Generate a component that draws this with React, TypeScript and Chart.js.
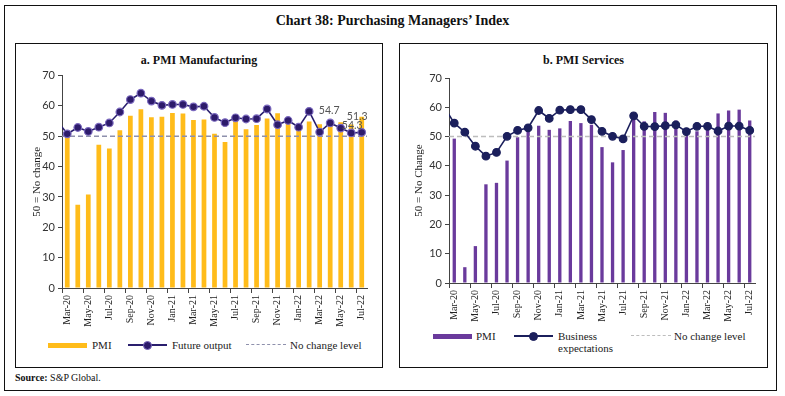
import React, { useEffect, useRef } from 'react';
import { Chart, registerables } from 'chart.js';

Chart.register(...registerables);

// ---------- DATA ----------
// Feb-20 is the month before the first shown one; only its line value is used (the line enters from the axis)
const months = [
  'Feb-20', 'Mar-20', 'Apr-20', 'May-20', 'Jun-20', 'Jul-20', 'Aug-20', 'Sep-20', 'Oct-20', 'Nov-20', 'Dec-20',
  'Jan-21', 'Feb-21', 'Mar-21', 'Apr-21', 'May-21', 'Jun-21', 'Jul-21', 'Aug-21', 'Sep-21', 'Oct-21', 'Nov-21', 'Dec-21',
  'Jan-22', 'Feb-22', 'Mar-22', 'Apr-22', 'May-22', 'Jun-22', 'Jul-22',
];
const firstShownMonth = 'Mar-20';

const manufacturingPMI = [
  null, 51.8, 27.4, 30.8, 47.2, 46.0, 52.0, 56.8, 58.9, 56.3, 56.4,
  57.7, 57.5, 55.4, 55.5, 50.8, 48.1, 55.3, 52.3, 53.7, 55.9, 57.6, 55.5,
  54.0, 54.9, 54.0, 54.7, 54.6, 53.9, 56.4,
];
const manufacturingFutureOutput = [
  55.3, 50.8, 52.9, 51.6, 53.0, 54.4, 58.0, 62.1, 64.2, 61.6, 60.2,
  60.5, 60.5, 59.7, 59.9, 56.2, 54.5, 56.1, 55.7, 55.8, 59.0, 53.8, 55.2,
  53.0, 58.2, 51.4, 54.4, 52.7, 51.1, 51.3,
];
const servicesPMI = [
  null, 49.3, 5.4, 12.6, 33.7, 34.2, 41.8, 49.8, 54.1, 53.7, 52.3,
  52.8, 55.3, 54.6, 54.0, 46.4, 41.2, 45.4, 56.7, 55.2, 58.4, 58.1, 55.5,
  51.5, 51.8, 53.6, 57.9, 58.9, 59.2, 55.5,
];
const servicesBusinessExpectations = [
  60.3, 54.6, 51.5, 46.7, 43.3, 44.6, 50.1, 52.1, 53.0, 58.9, 56.2,
  59.0, 59.2, 59.2, 55.8, 51.8, 50.1, 49.2, 57.1, 53.5, 53.4, 53.7, 54.0,
  51.7, 53.5, 53.5, 51.9, 53.6, 53.6, 52.1,
];
const noChangeLevel = 50;
const yAxisMin = 0;
const yAxisMax = 70;
const yAxisStep = 10;

// data labels printed on panel a
const mfgLabelMonths = ['Apr-22', 'Jun-22', 'Jul-22'];
const mfgLabelTexts = ['54.7', '54.3', '51.3'];
const mfgLabelAnchorValues = [54.7, 53.9, 56.4];

// ---------- STYLE ----------
const SERIF = '"Liberation Serif", "DejaVu Serif", serif';
const SANS = 'Lato, "Liberation Sans", sans-serif';

const noChangePlugin = {
  id: 'noChange',
  afterDatasetDraw(chart: any, args: any, opts: any) {
    if (args.index !== 0) return;
    const { ctx, chartArea } = chart;
    const y = chart.scales.y.getPixelForValue(opts.value);
    ctx.save();
    ctx.setLineDash(opts.dash);
    ctx.strokeStyle = opts.color;
    ctx.lineWidth = opts.width;
    ctx.beginPath();
    ctx.moveTo(chartArea.left, y);
    ctx.lineTo(chartArea.right, y);
    ctx.stroke();
    ctx.restore();
  },
};

const valueLabelPlugin = {
  id: 'valueLabels',
  afterDatasetsDraw(chart: any, _args: any, opts: any) {
    if (!opts || !opts.items || !opts.items.length) return;
    const { ctx } = chart;
    const xs = chart.scales.x;
    const ys = chart.scales.y;
    ctx.save();
    ctx.font = opts.font;
    ctx.fillStyle = opts.color;
    ctx.textAlign = 'center';
    ctx.textBaseline = 'middle';
    opts.items.forEach((it: any) => {
      const x = xs.getPixelForValue(months.indexOf(it.month)) + it.dx;
      const y = ys.getPixelForValue(it.value) + it.dy;
      ctx.fillText(it.text, x, y);
    });
    ctx.restore();
  },
};

type PanelProps = {
  bars: (number | null)[];
  line: number[];
  barColor: string;
  barFrac: number;
  lineColor: string;
  pointFill: string;
  pointBorder: string;
  pointRadius: number;
  dashColor: string;
  yTitle: string;
  yTitleOffset: number;
  yWidth: number;
  xHeight: number;
  padTop: number;
  padRight: number;
  width: number;
  height: number;
  labels?: any[];
};

function PanelChart(p: PanelProps) {
  const ref = useRef<HTMLCanvasElement | null>(null);
  useEffect(() => {
    if (!ref.current) return;
    const chart = new Chart(ref.current, {
      type: 'bar',
      data: {
        labels: months,
        datasets: [
          {
            type: 'bar',
            data: p.bars as any,
            backgroundColor: p.barColor,
            borderWidth: 0,
            barPercentage: 0.9,
            categoryPercentage: p.barFrac,
            order: 2,
          },
          {
            type: 'line',
            data: p.line,
            borderColor: p.lineColor,
            borderWidth: 1.6,
            pointRadius: p.pointRadius,
            pointBackgroundColor: p.pointFill,
            pointBorderColor: p.pointBorder,
            pointBorderWidth: 1.2,
            tension: 0,
            order: 1,
          } as any,
        ],
      },
      options: {
        animation: false,
        responsive: false,
        maintainAspectRatio: false,
        layout: { padding: { top: p.padTop, right: p.padRight, left: 0, bottom: 0 } },
        plugins: {
          legend: { display: false },
          tooltip: { enabled: false },
          noChange: { value: noChangeLevel, color: p.dashColor, width: 1.6, dash: [5, 3] },
          valueLabels: { items: p.labels || [], font: `10.5px ${SANS}`, color: '#555' },
        } as any,
        scales: {
          x: {
            type: 'category',
            min: firstShownMonth,
            offset: true,
            afterFit: (s: any) => { s.height = p.xHeight; },
            grid: {
              offset: true,
              drawOnChartArea: false,
              tickLength: 5,
              color: (ctx: any) => (ctx.index % 2 === 0 ? '#444' : 'rgba(0,0,0,0)'),
            },
            border: { display: true, color: '#444', width: 1 },
            ticks: {
              autoSkip: false,
              maxRotation: 90,
              minRotation: 90,
              padding: 2,
              color: '#222',
              font: { family: SERIF, size: 10 },
              callback: function (this: any, val: any, idx: number) {
                return idx % 2 === 0 ? this.getLabelForValue(val) : '';
              },
            },
          },
          y: {
            min: yAxisMin,
            max: yAxisMax,
            afterFit: (s: any) => { s.width = p.yWidth; },
            grid: { drawOnChartArea: false, tickLength: 4, color: '#444' },
            border: { display: true, color: '#444', width: 1 },
            ticks: {
              stepSize: yAxisStep,
              padding: 3,
              color: '#333',
              font: { family: SANS, size: 11 },
            },
            title: {
              display: true,
              text: p.yTitle,
              color: '#222',
              font: { family: SERIF, size: 11 },
              padding: { top: p.yTitleOffset, bottom: 0 },
            },
          },
        },
      },
      plugins: [noChangePlugin, valueLabelPlugin],
    } as any);
    return () => chart.destroy();
  }, []);
  return (
    <canvas
      ref={ref}
      width={p.width}
      height={p.height}
      style={{ width: p.width, height: p.height, display: 'block' }}
    />
  );
}

const legendText: React.CSSProperties = {
  position: 'absolute',
  fontFamily: SERIF,
  fontSize: 11,
  color: '#222',
  lineHeight: '12px',
  whiteSpace: 'nowrap',
};

function LegendSwatch({ x, y, color }: { x: number; y: number; color: string }) {
  return <div style={{ position: 'absolute', left: x, top: y - 2.5, width: 39, height: 5, background: color }} />;
}
function LegendLine({ x, y, color, fill, border }: { x: number; y: number; color: string; fill: string; border: string }) {
  return (
    <>
      <div style={{ position: 'absolute', left: x, top: y - 1, width: 39, height: 2, background: color }} />
      <div style={{ position: 'absolute', left: x + 15, top: y - 4.5, width: 7, height: 7, borderRadius: '50%', background: fill, border: `1px solid ${border}` }} />
    </>
  );
}
function LegendDash({ x, y, color }: { x: number; y: number; color: string }) {
  return <div style={{ position: 'absolute', left: x, top: y - 1, width: 40, height: 0, borderTop: `1.5px dashed ${color}` }} />;
}

export default function App() {
  const mfgLabels = mfgLabelMonths.map((m, i) => ({
    month: m,
    text: mfgLabelTexts[i],
    value: mfgLabelAnchorValues[i],
    dx: [-1, 1, -4.5][i],
    dy: [-11.5, 1, 0][i],
  }));
  return (
    <div style={{ position: 'absolute', left: 0, top: 0, width: 785, height: 396, background: '#fff', overflow: 'hidden' }}>
      {/* outer frame */}
      <div style={{ position: 'absolute', left: 4, top: 5, width: 771, height: 384, border: '1px solid #111' }} />
      <div style={{ position: 'absolute', left: 0, top: 13, width: 785, textAlign: 'center', fontFamily: SERIF, fontWeight: 'bold', fontSize: 14, color: '#111' }}>
        Chart 38: Purchasing Managers’ Index
      </div>

      {/* panel a */}
      <div style={{ position: 'absolute', left: 15, top: 43, width: 366, height: 323, border: '1px solid #111' }} />
      <div style={{ position: 'absolute', left: 15, top: 53, width: 368, textAlign: 'center', fontFamily: SERIF, fontWeight: 'bold', fontSize: 12, color: '#111' }}>
        a. PMI Manufacturing
      </div>
      <div style={{ position: 'absolute', left: 15, top: 66 }}>
        <PanelChart
          bars={manufacturingPMI}
          line={manufacturingFutureOutput}
          barColor="#FFBC1A"
          barFrac={0.5}
          lineColor="#2A1F6E"
          pointFill="#2D1B6B"
          pointBorder="#7A68BE"
          pointRadius={3.8}
          dashColor="#8E90AC"
          yTitle="50 = No change"
          yTitleOffset={16}
          yWidth={47}
          xHeight={40}
          padTop={9}
          padRight={14}
          width={366}
          height={262}
          labels={mfgLabels}
        />
      </div>
      <LegendSwatch x={48} y={345} color="#FFBC1A" />
      <div style={{ ...legendText, left: 92, top: 339 }}>PMI</div>
      <LegendLine x={128} y={345} color="#2A1F6E" fill="#2D1B6B" border="#7A68BE" />
      <div style={{ ...legendText, left: 172, top: 339 }}>Future output</div>
      <LegendDash x={246} y={345} color="#8E90AC" />
      <div style={{ ...legendText, left: 290, top: 339 }}>No change level</div>

      {/* panel b */}
      <div style={{ position: 'absolute', left: 399, top: 43, width: 367, height: 323, border: '1px solid #111' }} />
      <div style={{ position: 'absolute', left: 399, top: 53, width: 369, textAlign: 'center', fontFamily: SERIF, fontWeight: 'bold', fontSize: 12, color: '#111' }}>
        b. PMI Services
      </div>
      <div style={{ position: 'absolute', left: 400, top: 66 }}>
        <PanelChart
          bars={servicesPMI}
          line={servicesBusinessExpectations}
          barColor="#6A3A9C"
          barFrac={0.35}
          lineColor="#1B1F5C"
          pointFill="#1B1F5C"
          pointBorder="#1B1F5C"
          pointRadius={3.8}
          dashColor="#BDBDBD"
          yTitle="50 = No Change"
          yTitleOffset={13}
          yWidth={49}
          xHeight={45}
          padTop={12}
          padRight={11}
          width={366}
          height={262}
        />
      </div>
      <LegendSwatch x={433} y={336} color="#6A3A9C" />
      <div style={{ ...legendText, left: 476, top: 330 }}>PMI</div>
      <LegendLine x={514} y={336} color="#1B1F5C" fill="#1B1F5C" border="#1B1F5C" />
      <div style={{ ...legendText, left: 558, top: 330 }}>Business<br />expectations</div>
      <LegendDash x={631} y={336} color="#BDBDBD" />
      <div style={{ ...legendText, left: 674, top: 330 }}>No change level</div>

      <div style={{ position: 'absolute', left: 15, top: 372, fontFamily: SERIF, fontSize: 10, color: '#111' }}>
        <b>Source:</b> S&amp;P Global.
      </div>
    </div>
  );
}
